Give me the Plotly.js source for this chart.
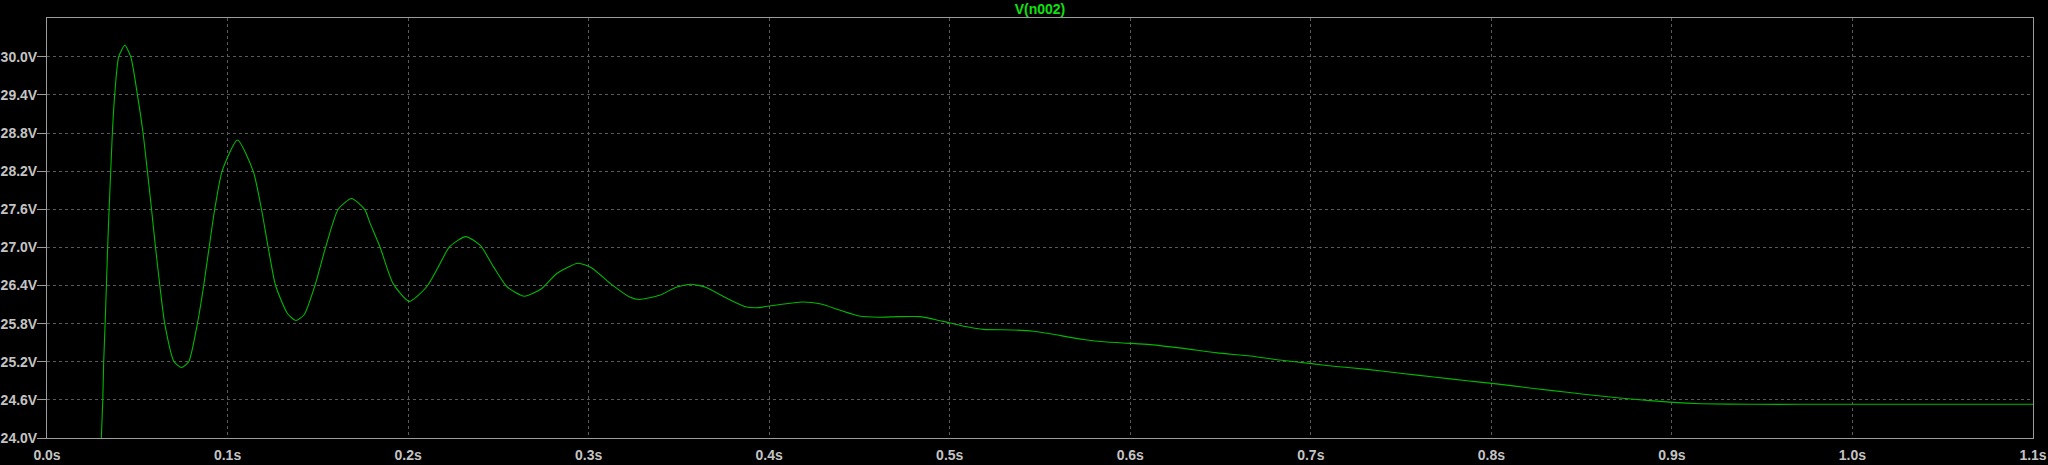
<!DOCTYPE html>
<html>
<head>
<meta charset="utf-8">
<script src="https://cdn.plot.ly/plotly-3.0.1.min.js"></script>
<style>
html,body{margin:0;padding:0;background:#000;}
#chart{width:2048px;height:465px;}
</style>
</head>
<body>
<div id="chart"></div>
<script>
const timeS = [
  0.0301, 0.0309, 0.0314, 0.0322, 0.0329, 0.0336, 0.0344, 0.0353, 0.0362, 0.0375,
  0.0397, 0.0431, 0.0464, 0.0501, 0.0532, 0.0556, 0.0579, 0.0601, 0.0625, 0.0652,
  0.0704, 0.0745, 0.0785, 0.0833, 0.0868, 0.0898, 0.0929, 0.0970, 0.1055, 0.1142,
  0.1188, 0.1225, 0.1266, 0.1332, 0.1378, 0.1424, 0.1484, 0.1543, 0.1613, 0.1687,
  0.1761, 0.1788, 0.1844, 0.1917, 0.2007, 0.2103, 0.2167, 0.2230, 0.2319, 0.2400,
  0.2474, 0.2548, 0.2644, 0.2739, 0.2824, 0.2941, 0.3015, 0.3121, 0.3227, 0.3280,
  0.3397, 0.3481, 0.3566, 0.3651, 0.3757, 0.3863, 0.3927, 0.4033, 0.4181, 0.4287,
  0.4393, 0.4499, 0.4605, 0.4711, 0.4836, 0.4910, 0.5002, 0.5095, 0.5187, 0.5353,
  0.5464, 0.5557, 0.5741, 0.5871, 0.6002, 0.6111, 0.6296, 0.6480, 0.6665, 0.6850,
  0.7003, 0.7127, 0.7312, 0.7496, 0.7681, 0.7866, 0.8004, 0.8235, 0.8420, 0.8605,
  0.8789, 0.9007, 0.9159, 0.9454, 0.9713, 1.0267, 1.1000
];
const voltageV = [
  24.00, 24.60, 25.20, 25.80, 26.40, 27.00, 27.60, 28.20, 28.80, 29.40,
  30.00, 30.18, 30.00, 29.40, 28.80, 28.20, 27.60, 27.00, 26.40, 25.80,
  25.20, 25.11, 25.20, 25.80, 26.40, 27.00, 27.60, 28.20, 28.69, 28.20,
  27.60, 27.00, 26.40, 25.96, 25.85, 25.94, 26.40, 27.00, 27.60, 27.77,
  27.59, 27.39, 27.01, 26.43, 26.15, 26.38, 26.69, 27.01, 27.17, 27.03,
  26.69, 26.38, 26.23, 26.35, 26.59, 26.75, 26.68, 26.43, 26.22, 26.18,
  26.25, 26.37, 26.42, 26.37, 26.21, 26.07, 26.05, 26.09, 26.14, 26.11,
  26.01, 25.92, 25.90, 25.91, 25.91, 25.87, 25.81, 25.75, 25.71, 25.70,
  25.68, 25.64, 25.55, 25.51, 25.49, 25.47, 25.41, 25.34, 25.29, 25.22,
  25.17, 25.13, 25.08, 25.02, 24.96, 24.90, 24.86, 24.78, 24.72, 24.66,
  24.61, 24.56, 24.54, 24.53, 24.53, 24.53, 24.53
];
const yTickVals = [24.0, 24.6, 25.2, 25.8, 26.4, 27.0, 27.6, 28.2, 28.8, 29.4, 30.0];
const yTickText = ['24.0V','24.6V','25.2V','25.8V','26.4V','27.0V','27.6V','28.2V','28.8V','29.4V','30.0V'];
const xTickVals = [0.0, 0.1, 0.2, 0.3, 0.4, 0.5, 0.6, 0.7, 0.8, 0.9, 1.0, 1.1];
const xTickText = ['0.0s','0.1s','0.2s','0.3s','0.4s','0.5s','0.6s','0.7s','0.8s','0.9s','1.0s','1.1s'];
const traceName = 'V(n002)';

const tickFont = {family: 'Liberation Sans, Arial, sans-serif', size: 14, color: '#c4c4c4', weight: 700};

const data = [{
  x: timeS,
  y: voltageV,
  type: 'scatter',
  mode: 'lines',
  name: traceName,
  line: {color: '#00b800', width: 1.1, shape: 'spline', smoothing: 0.6},
  hoverinfo: 'x+y'
}];

const layout = {
  width: 2048,
  height: 465,
  paper_bgcolor: '#000000',
  plot_bgcolor: '#000000',
  margin: {l: 47, r: 15, t: 18, b: 27, pad: 0},
  showlegend: false,
  title: {
    text: traceName,
    font: {family: 'Liberation Sans, Arial, sans-serif', size: 14, color: '#11e011', weight: 700},
    x: 0.5, xref: 'paper', xanchor: 'center',
    y: 1 - 9/465, yref: 'container', yanchor: 'middle'
  },
  xaxis: {
    range: [0, 1.1],
    tickmode: 'array',
    tickvals: xTickVals,
    ticktext: xTickText,
    ticks: '',
    ticklabelstandoff: 4,
    tickfont: tickFont,
    showgrid: true,
    gridcolor: '#5a5a5a',
    griddash: 'dot',
    gridwidth: 1,
    showline: true,
    linecolor: '#9c9c9c',
    linewidth: 1,
    mirror: true,
    zeroline: false,
    fixedrange: true
  },
  yaxis: {
    range: [24.0, 30.61],
    tickmode: 'array',
    tickvals: yTickVals,
    ticktext: yTickText,
    ticks: 'outside',
    ticklen: 9,
    tickcolor: '#9c9c9c',
    tickwidth: 1,
    ticklabelstandoff: -6,
    tickfont: tickFont,
    showgrid: true,
    gridcolor: '#5a5a5a',
    griddash: 'dot',
    gridwidth: 1,
    showline: true,
    linecolor: '#9c9c9c',
    linewidth: 1,
    mirror: true,
    zeroline: false,
    fixedrange: true
  }
};

// Target label placement measured on the reference (px)
const Y_LABEL_RIGHT = 38;
const X_LABEL_CENTER_Y = 455;

Plotly.newPlot('chart', data, layout, {displayModeBar: false, staticPlot: true}).then(function (gd) {
  const ys = gd.querySelectorAll('.ytick text');
  const xs = gd.querySelectorAll('.xtick text');
  const upd = {};
  if (ys.length) {
    let right = -Infinity;
    ys.forEach(function (t) { right = Math.max(right, t.getBoundingClientRect().right); });
    upd['yaxis.ticklabelstandoff'] = Math.round(layout.yaxis.ticklabelstandoff + (right - Y_LABEL_RIGHT));
  }
  if (xs.length) {
    const r = xs[0].getBoundingClientRect();
    const cy = (r.top + r.bottom) / 2;
    upd['xaxis.ticklabelstandoff'] = Math.round(layout.xaxis.ticklabelstandoff + (X_LABEL_CENTER_Y - cy));
  }
  return Plotly.relayout(gd, upd);
});
</script>
</body>
</html>
